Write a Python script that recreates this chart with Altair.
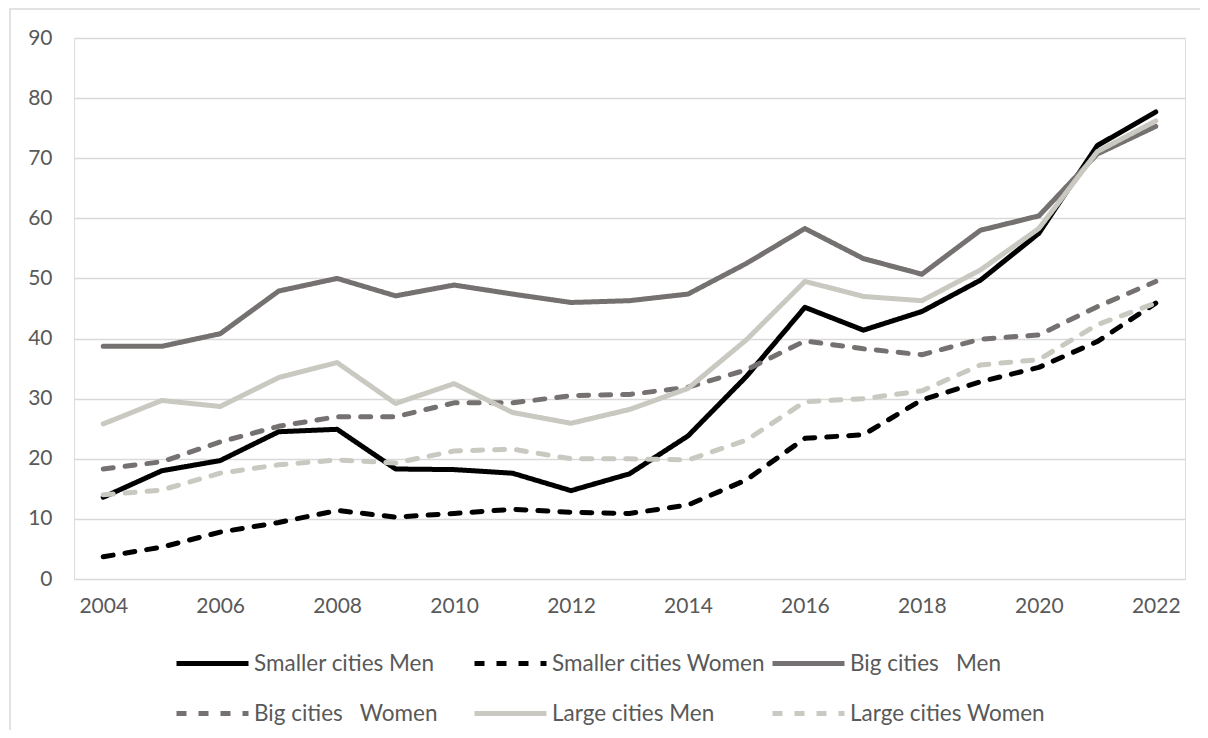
import altair as alt
import pandas as pd

years = list(range(2004, 2023))

series_names = [
    "Smaller cities Men",
    "Smaller cities Women",
    "Big cities\u00a0\u00a0 Men",
    "Big cities\u00a0\u00a0 Women",
    "Large cities Men",
    "Large cities Women",
]

smaller_men = [13.6, 18.0, 19.7, 24.5, 24.9, 18.3, 18.2, 17.6, 14.7, 17.5, 23.8, 33.7, 45.2, 41.4, 44.5, 49.7, 57.5, 72.1, 77.7]
smaller_women = [3.7, 5.3, 7.8, 9.4, 11.4, 10.3, 10.9, 11.6, 11.1, 10.9, 12.3, 16.5, 23.4, 24.0, 29.8, 32.8, 35.2, 39.5, 45.9]
big_men = [38.7, 38.7, 40.8, 47.9, 50.0, 47.1, 48.9, 47.4, 46.0, 46.3, 47.4, 52.5, 58.3, 53.3, 50.7, 58.0, 60.4, 70.7, 75.3]
big_women = [18.3, 19.5, 22.8, 25.4, 27.0, 27.0, 29.3, 29.3, 30.5, 30.7, 31.9, 34.8, 39.6, 38.3, 37.3, 39.9, 40.6, 45.3, 49.5]
large_men = [25.8, 29.7, 28.7, 33.5, 36.0, 29.2, 32.5, 27.7, 25.9, 28.2, 31.7, 39.8, 49.5, 47.0, 46.3, 51.4, 58.3, 71.1, 76.2]
large_women = [14.0, 14.8, 17.6, 19.0, 19.8, 19.3, 21.3, 21.6, 20.0, 20.0, 19.8, 23.1, 29.5, 30.0, 31.3, 35.6, 36.5, 42.3, 45.9]

all_values = [smaller_men, smaller_women, big_men, big_women, large_men, large_women]

x_ticks = list(range(2004, 2023, 2))
y_ticks = list(range(0, 91, 10))

series_colors = ["#000000", "#000000", "#767171", "#767171", "#C9C9C1", "#C9C9C1"]
SOLID = [1, 0]
DASH = [10, 12]
series_dashes = [SOLID, DASH, SOLID, DASH, SOLID, DASH]

# legend grid fills column by column (2 rows): reorder so rows read like the reference
legend_order = [0, 3, 1, 4, 2, 5]
domain = [series_names[i] for i in legend_order]
colors = [series_colors[i] for i in legend_order]
dashes = [series_dashes[i] for i in legend_order]

rows = []
for i, (name, vals) in enumerate(zip(series_names, all_values)):
    for y, v in zip(years, vals):
        rows.append({"year": y, "value": v, "series": name, "order": i})
df = pd.DataFrame(rows)

legend = alt.Legend(
    title=None,
    orient="none",
    legendX=100,
    legendY=587,
    columns=3,
    gridAlign="all",
    columnPadding=-4,
    rowPadding=-39,
    symbolType="stroke",
    symbolSize=5184,
    symbolStrokeWidth=5,
    labelFont="Lato",
    labelFontSize=22.5,
    labelColor="#595959",
    labelOffset=3,
    labelLimit=400,
    padding=0,
)

lines = alt.Chart(df).mark_line(strokeWidth=5, strokeCap="round", strokeJoin="round").encode(
    x=alt.X(
        "year:Q",
        scale=alt.Scale(domain=[2003.5, 2022.5], nice=False, zero=False),
        axis=alt.Axis(
            values=x_ticks, format="d", title=None, grid=False, domain=False, ticks=False,
            labelFont="Lato", labelFontSize=21, labelColor="#595959", labelPadding=16,
        ),
    ),
    y=alt.Y(
        "value:Q",
        scale=alt.Scale(domain=[0, 90], nice=False),
        axis=alt.Axis(
            values=y_ticks, title=None, grid=True, gridColor="#D9D9D9", gridWidth=1.4,
            domain=False, ticks=False, labelFont="Lato", labelFontSize=21,
            labelColor="#595959", labelPadding=22,
        ),
    ),
    stroke=alt.Stroke("series:N", scale=alt.Scale(domain=domain, range=colors), legend=legend),
    strokeDash=alt.StrokeDash("series:N", scale=alt.Scale(domain=domain, range=dashes), legend=legend),
    order=alt.Order("order:Q"),
    detail="order:N",
)

border = alt.Chart(alt.Data(values=[{"b": 1}])).mark_rect(
    fill=None, stroke="#D9D9D9", strokeWidth=1.5
).encode(
    x=alt.value(-64), x2=alt.value(1132), y=alt.value(-29), y2=alt.value(760)
)

chart = alt.layer(border, lines).properties(
    width=1111,
    height=541,
    autosize=alt.AutoSizeParams(type="none"),
    padding={"left": 66, "top": 30, "right": 15, "bottom": 151},
).configure_view(stroke=None).configure(background="white")

chart.save("out.html", embed_options={"renderer": "svg", "actions": False})
